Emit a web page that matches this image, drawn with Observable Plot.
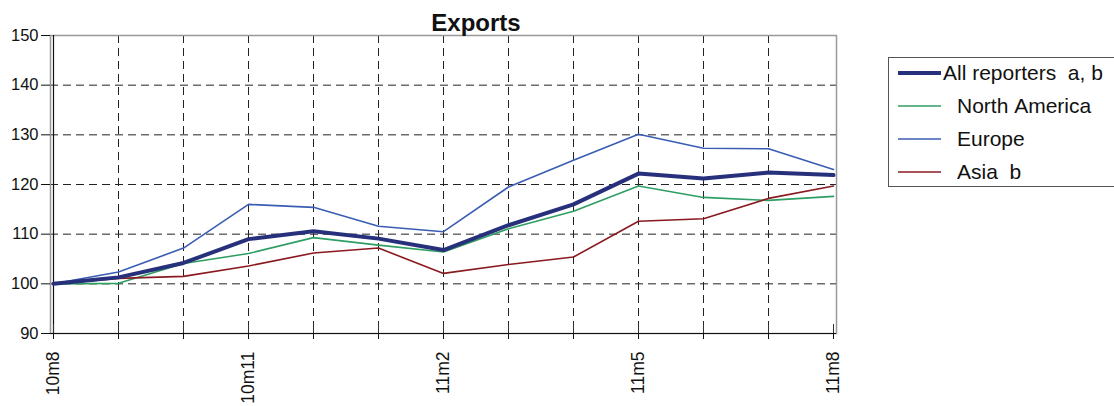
<!DOCTYPE html>
<html><head><meta charset="utf-8">
<script src="https://cdn.jsdelivr.net/npm/d3@7"></script>
<script src="https://cdn.jsdelivr.net/npm/@observablehq/plot@0.6"></script>
<style>
html,body{margin:0;padding:0;background:#fff;overflow:hidden;}
#wrap{position:relative;width:1114px;height:406px;font-family:"Liberation Sans",Arial,sans-serif;}
#title{position:absolute;left:0;width:952px;top:11px;text-align:center;font-weight:bold;font-size:24px;line-height:24px;color:#111;}
#chart{position:absolute;left:0;top:0;}
#legend{position:absolute;left:888px;top:57px;width:240px;height:130px;border:1px solid #555;box-sizing:border-box;background:#fff;}
.row{position:absolute;left:0;height:24px;line-height:24px;font-size:21px;color:#111;white-space:nowrap;}
.row svg{position:absolute;left:8px;top:0;}
.row span{position:absolute;top:0;}
</style></head>
<body><div id="wrap"><div id="chart"></div><div id="title">Exports</div><div id="legend"></div></div>
<script>
const months = ["10m8","10m9","10m10","10m11","10m12","11m1","11m2","11m3","11m4","11m5","11m6","11m7","11m8"];
const labeledMonths = ["10m8","10m11","11m2","11m5","11m8"];
const seriesNames = ["All reporters  a, b","North America","Europe","Asia  b"];
const allReporters = [100,101.3,104.2,109.0,110.6,109.1,106.8,111.8,116.0,122.2,121.2,122.4,121.9];
const northAmerica = [100,100.1,104.1,106.1,109.3,107.8,106.4,111.1,114.6,119.7,117.4,116.8,117.6];
const europe = [100,102.4,107.2,116.0,115.4,111.6,110.5,119.5,124.9,130.1,127.3,127.2,123.0];
const asia = [100,101.1,101.5,103.6,106.2,107.2,102.1,103.9,105.4,112.6,113.1,117.2,119.7];
const yTicks = [90,100,110,120,130,140,150];
const colors = ["#27307a","#2e9e62","#3a5db3","#8a1a1f"];
const widths = [4,1.6,1.6,1.6];

const valuesBySeries = [allReporters, northAmerica, europe, asia];
const table = [];
valuesBySeries.forEach((vals, s) => vals.forEach((v, i) => table.push({series: seriesNames[s], month: months[i], value: v})));
const drawOrder = [2,1,3,0];

const chart = Plot.plot({
  width: 860, height: 406,
  marginLeft: 50, marginRight: 24, marginTop: 35, marginBottom: 73,
  style: {fontFamily: '"Liberation Sans", Arial, sans-serif', fontSize: "16px", color: "#111", background: "#fff"},
  x: {type: "point", domain: months, padding: 0},
  y: {domain: [90, 150]},
  marks: [
    Plot.ruleY(yTicks.slice(1, -1), {stroke: "#222", strokeDasharray: "8,5", strokeWidth: 1}),
    Plot.ruleX(months.slice(1, -1), {stroke: "#222", strokeDasharray: "8,5", strokeWidth: 1}),
    Plot.frame({stroke: "#999", strokeWidth: 1.5}),
    Plot.ruleY([90], {stroke: "#111", strokeWidth: 1.2}),
    Plot.ruleX([months[0]], {stroke: "#111", strokeWidth: 1.2}),
    Plot.ruleX(months, {x: d => d, y1: 90, y2: 91.8, stroke: "#333", strokeWidth: 1}),
    ...drawOrder.map(s => Plot.line(table.filter(d => d.series === seriesNames[s]), {
      x: "month", y: "value", stroke: colors[s], strokeWidth: widths[s], strokeLinejoin: "round"
    })),
    Plot.axisY({ticks: yTicks, tickSize: 9, tickPadding: 3, label: null, stroke: "#111", fontSize: 16.5}),
    Plot.axisX({ticks: months, tickSize: 6, tickPadding: 12, tickRotate: -90, label: null, fontSize: 17.5,
      tickFormat: d => labeledMonths.includes(d) ? d : ""})
  ]
});
document.getElementById("chart").appendChild(chart);

const legend = document.getElementById("legend");
seriesNames.forEach((name, s) => {
  const row = document.createElement("div");
  row.className = "row";
  row.style.top = (3 + s * 33) + "px";
  row.innerHTML = `<svg width="46" height="24"><line x1="1" x2="44" y1="12" y2="12" stroke="${colors[s]}" stroke-width="${widths[s]}"/></svg><span style="left:${s === 0 ? 54 : 68}px">${name.replace(/ /g, "&nbsp;")}</span>`;
  legend.appendChild(row);
});
</script></body></html>
